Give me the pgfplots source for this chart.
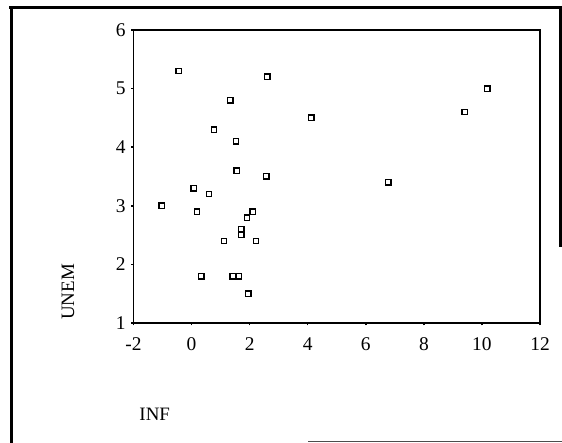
\documentclass[border=0pt]{standalone}
\usepackage{fontspec}
\setmainfont{Liberation Serif}
\usepackage{pgfplots}
\pgfplotsset{compat=1.18}
\begin{document}
\begin{tikzpicture}[x=1bp,y=1bp]
\path[use as bounding box] (0,0) rectangle (562,443);
\draw[line width=3bp] (11,0) -- (11,437);
\draw[line width=3.5bp] (9,435.5) -- (561,435.5);
\draw[line width=3bp] (560,437) -- (560,196);
\draw[line width=1.2bp, black!70] (308,1.5) -- (562,1.5);
\begin{axis}[
  at={(133.5bp,120bp)}, anchor=south west,
  scale only axis, width=406.5bp, height=293bp,
  xmin=-2, xmax=12, ymin=1, ymax=6,
  xtick={-2,0,2,4,6,8,10,12}, ytick={1,2,3,4,5,6},
  tick pos=left, tick align=outside,
  major tick length=2.5bp,
  tick style={line width=1.5bp, black},
  axis line style={line width=1.7bp},
  /pgf/number format/assume math mode=true,
  tick label style={font=\fontsize{19.5}{21}\selectfont},
  xticklabel style={yshift=-9bp},
  yticklabel style={xshift=-2bp},
  label style={font=\fontsize{19}{21}\selectfont},
  xlabel={INF},
  xlabel style={at={(axis description cs:0.006,-0.334)}, anchor=base west},
  ylabel={UNEM},
  ylabel style={at={(axis description cs:-0.161,0.106)}, anchor=center, rotate=0},
]
\addplot[only marks, mark=square*, mark size=2.7bp,
  mark options={line width=1.4bp, draw=black, fill=white}] coordinates {
(-0.45,5.3) (2.61,5.2) (1.33,4.8) (10.18,5.0) (9.41,4.6)
(4.13,4.5) (0.77,4.3) (1.53,4.1) (1.55,3.6) (2.58,3.5)
(6.77,3.4) (0.08,3.3) (0.60,3.2) (-1.03,3.0) (0.19,2.9)
(2.10,2.9) (1.91,2.8) (1.71,2.6) (1.71,2.5) (1.12,2.4)
(2.22,2.4) (0.34,1.8) (1.42,1.8) (1.62,1.8) (1.96,1.5)
};
\end{axis}
\end{tikzpicture}
\end{document}
